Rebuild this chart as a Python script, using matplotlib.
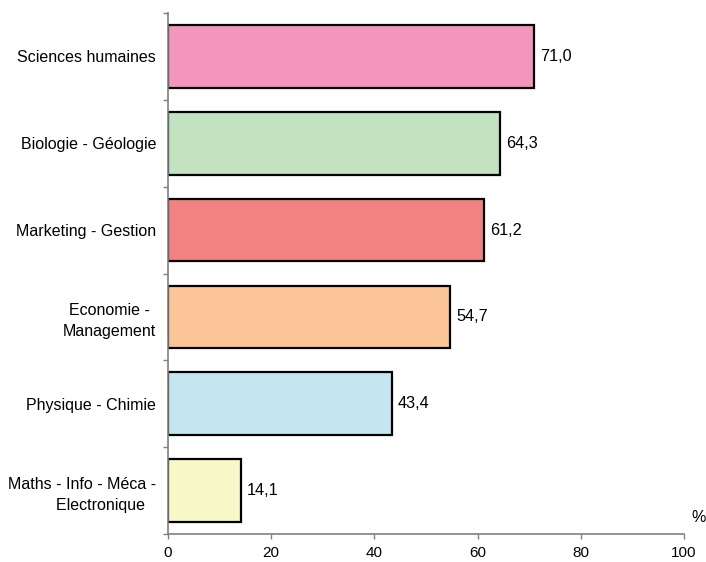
import matplotlib
matplotlib.use("Agg")
import matplotlib.pyplot as plt
import numpy as np

categories = ["Sciences humaines", "Biologie - Géologie", "Marketing - Gestion",
              "Economie -\nManagement", "Physique - Chimie",
              "Maths - Info - Méca -\n        Electronique"]
values = [71.0, 64.3, 61.2, 54.7, 43.4, 14.1]
value_labels = ["71,0", "64,3", "61,2", "54,7", "43,4", "14,1"]
colors = ["#F495BE", "#C3E2C0", "#F28282", "#FCC597", "#C3E6EF", "#F8F7C8"]
xticks = [0, 20, 40, 60, 80, 100]

plt.rcParams['font.family'] = ['Liberation Sans', 'DejaVu Sans']

fig = plt.figure(figsize=(7.06, 5.62), dpi=100)
ax = fig.add_axes([168/706, 1-534/562, (684-168)/706, (534-13)/562])

n = len(categories)
ypos = np.arange(n)
ax.barh(ypos, values, height=0.72, color=colors, edgecolor="black", linewidth=1.6)
for y, v, lab in zip(ypos, values, value_labels):
    ax.text(v + 1.15, y, lab, va="center", ha="left", fontsize=11.7)

ax.set_xlim(0, 100)
ax.set_ylim(n - 0.5, -0.5)
ax.set_xticks(xticks)
ax.set_xticklabels([str(t) for t in xticks], fontsize=11)
ax.set_yticks(ypos)
ax.set_yticklabels(categories, fontsize=11.5, multialignment="center", linespacing=1.5)
ax.tick_params(axis="y", length=0, pad=8.5)
ax.set_yticks(np.arange(-0.5, n, 1.0), minor=True)
ax.tick_params(axis="y", which="minor", length=3.6, color="#808080", width=1)
ax.tick_params(axis="x", length=3.5, color="#808080", width=1, pad=5.2)
for s in ["top", "right"]:
    ax.spines[s].set_visible(False)
for s in ["left", "bottom"]:
    ax.spines[s].set_color("#808080")
    ax.spines[s].set_linewidth(1.2)
ax.text(1.029, 0.031, "%", transform=ax.transAxes, fontsize=11.5, ha="center", va="center")

fig.savefig("out.png", dpi=100)
